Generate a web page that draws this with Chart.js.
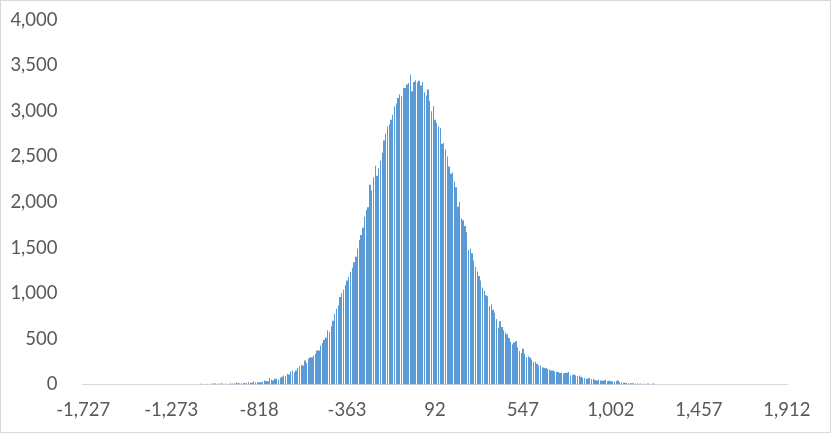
<!DOCTYPE html>
<html>
<head>
<meta charset="utf-8">
<title>Histogram</title>
<script src="https://cdn.jsdelivr.net/npm/chart.js@4.4.0/dist/chart.umd.min.js"></script>
<style>
  html, body { margin: 0; padding: 0; background: #fff; }
  #frame { position: relative; width: 831px; height: 433px; box-sizing: border-box; border: 1px solid #d9d9d9; background: #fff; }
  #frame canvas { position: absolute; left: 0; top: 0; }
</style>
</head>
<body>
<div id="frame"><canvas id="hist" width="829" height="431"></canvas></div>
<script>
/* Histogram — 401 bins, one x label every 50 bins */

const tickLabels = ['-1,727', '-1,273', '-818', '-363', '92', '547', '1,002', '1,457', '1,912'];
const labelEvery = 50;

// counts per bin (bins 0..400)
const counts = [
  0, 0, 0, 0, 0, 0, 0, 0, 0, 0, 0, 0, 0, 0, 0, 0, 0, 0, 0, 0,
  0, 0, 0, 0, 0, 0, 0, 0, 0, 0, 0, 0, 0, 0, 0, 0, 0, 0, 0, 0,
  0, 0, 0, 0, 0, 0, 0, 0, 0, 0, 0, 0, 0, 0, 0, 0, 0, 0, 0, 0,
  0, 0, 0, 0, 0, 0, 0, 8, 0, 0, 8, 0, 0, 10, 12, 10, 0, 12, 10, 12,
  0, 10, 0, 12, 8, 12, 14, 25, 14, 15, 14, 16, 14, 15, 25, 18, 18, 37, 25, 22,
  25, 26, 30, 44, 38, 37, 70, 51, 44, 62, 62, 51, 73, 85, 99, 92, 117, 110, 143, 154,
  135, 154, 180, 200, 216, 209, 264, 235, 282, 295, 300, 319, 337, 374, 374, 429, 455, 491, 513, 594,
  576, 640, 700, 777, 830, 870, 960, 1000, 1040, 1089, 1140, 1180, 1235, 1280, 1340, 1400, 1490, 1584, 1640, 1720,
  1840, 1914, 1943, 2189, 2127, 2273, 2398, 2288, 2372, 2453, 2541, 2676, 2750, 2830, 2850, 2904, 2959, 3050, 3080, 3142,
  3179, 3160, 3252, 3250, 3289, 3307, 3399, 3215, 3317, 3336, 3315, 3330, 3278, 3317, 3204, 3168, 3234, 3110, 2996, 3050,
  2904, 2870, 2830, 2812, 2640, 2650, 2580, 2500, 2390, 2310, 2325, 2225, 2163, 1950, 2005, 1820, 1800, 1738, 1670, 1474,
  1490, 1440, 1360, 1290, 1240, 1190, 1140, 1063, 1026, 979, 967, 858, 880, 820, 788, 718, 623, 693, 630, 595,
  568, 550, 509, 468, 440, 460, 473, 407, 367, 345, 392, 337, 300, 310, 297, 275, 245, 249, 227, 209,
  209, 190, 185, 178, 172, 165, 154, 154, 143, 140, 136, 125, 128, 120, 125, 130, 136, 99, 105, 110,
  99, 92, 99, 85, 73, 70, 62, 66, 73, 60, 62, 50, 44, 48, 44, 40, 45, 51, 37, 40,
  35, 37, 33, 38, 44, 26, 24, 20, 18, 16, 15, 15, 14, 15, 12, 11, 9, 11, 7, 8,
  0, 11, 0, 0, 10, 0, 0, 0, 0, 0, 0, 0, 0, 0, 0, 0, 0, 0, 0, 0,
  0, 0, 0, 0, 0, 0, 0, 0, 0, 0, 0, 0, 0, 0, 0, 0, 0, 0, 0, 0,
  0, 0, 0, 0, 0, 0, 0, 0, 0, 0, 0, 0, 0, 0, 0, 0, 0, 0, 0, 0,
  0, 0, 0, 0, 0, 0, 0, 0, 0, 0, 0, 0, 0, 0, 0, 0, 0, 0, 0, 0,
  0
];

const yMax = 4000;
const yStep = 500;

const binLabels = counts.map((_, i) => i);

const BAR_BLUE = '#5B9BD5';
const TEXT_GREY = '#595959';
const AXIS_GREY = '#d9d9d9';
const tickFont = { family: 'Lato', size: 18.5 };

// snap bar edges to whole pixels, the way the reference renders them
const snapBars = {
  id: 'snapBars',
  beforeDatasetsDraw(chart) {
    chart.getDatasetMeta(0).data.forEach(bar => {
      const l = Math.round(bar.x - bar.width / 2);
      const r = Math.round(bar.x + bar.width / 2);
      bar.x = (l + r) / 2;
      bar.width = r - l;
    });
  }
};

new Chart(document.getElementById('hist'), {
  type: 'bar',
  data: {
    labels: binLabels,
    datasets: [{
      data: counts,
      backgroundColor: BAR_BLUE,
      borderWidth: 0,
      barPercentage: 1,
      categoryPercentage: 0.77,
      inflateAmount: 0
    }]
  },
  options: {
    responsive: false,
    animation: false,
    events: [],
    layout: { padding: { left: 0, right: 42.3, top: 18.7, bottom: 11 } },
    plugins: { legend: { display: false }, tooltip: { enabled: false } },
    scales: {
      x: {
        grid: { display: false, drawTicks: false },
        border: { display: true, color: AXIS_GREY, width: 1 },
        ticks: {
          autoSkip: false, maxRotation: 0, minRotation: 0, padding: 14.7,
          color: TEXT_GREY, font: tickFont,
          callback: (v, i) => (i % labelEvery === 0 ? tickLabels[i / labelEvery] : null)
        },
        afterFit: s => { s.height = 36.5; s.paddingLeft = 0; s.paddingRight = 0; }
      },
      y: {
        min: 0, max: yMax,
        grid: { display: false, drawTicks: false },
        border: { display: false },
        ticks: {
          stepSize: yStep, padding: 24.8,
          color: TEXT_GREY, font: tickFont,
          callback: v => v.toLocaleString('en-US')
        },
        afterFit: s => { s.width = 81.3; s.paddingTop = 0; s.paddingBottom = 0; }
      }
    }
  },
  plugins: [snapBars]
});
</script>
</body>
</html>
